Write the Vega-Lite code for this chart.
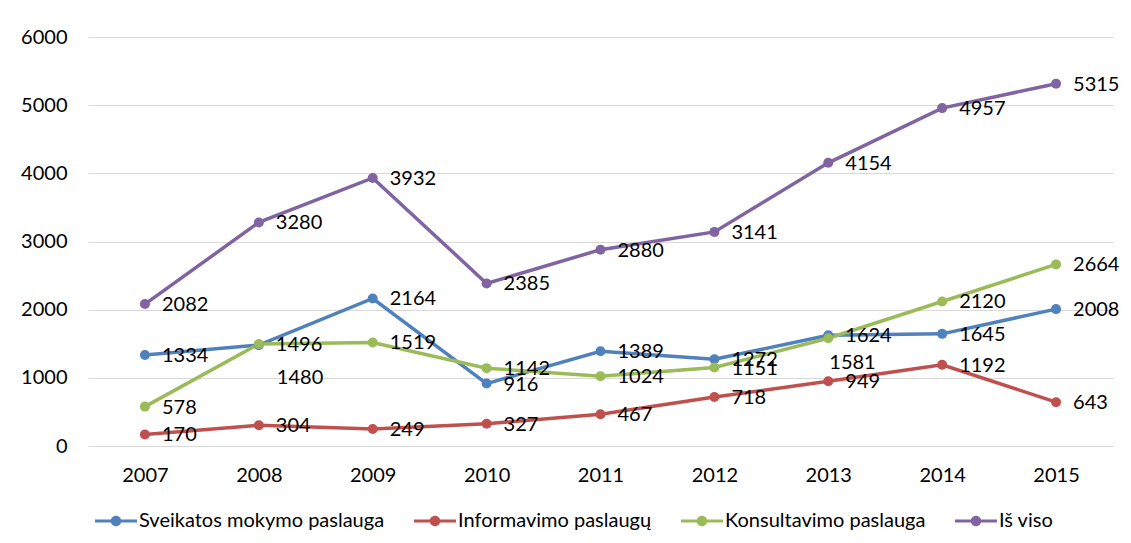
{
  "$schema": "https://vega.github.io/schema/vega-lite/v6.json",
  "autosize": "none",
  "width": 1025,
  "height": 409,
  "padding": {"left": 88, "top": 37, "right": 18, "bottom": 97},
  "background": "white",
  "config": {
    "font": "Lato",
    "view": {"stroke": null},
    "axis": {"labelFont": "Lato", "labelFontSize": 20, "labelColor": "#000000", "title": null, "ticks": false, "domain": false, "gridColor": "#d9d9d9", "gridWidth": 1}
  },
  "data": {
    "values": [
      {"year": "2007", "series": "Sveikatos mokymo paslauga", "value": 1334},
      {"year": "2008", "series": "Sveikatos mokymo paslauga", "value": 1480},
      {"year": "2009", "series": "Sveikatos mokymo paslauga", "value": 2164},
      {"year": "2010", "series": "Sveikatos mokymo paslauga", "value": 916},
      {"year": "2011", "series": "Sveikatos mokymo paslauga", "value": 1389},
      {"year": "2012", "series": "Sveikatos mokymo paslauga", "value": 1272},
      {"year": "2013", "series": "Sveikatos mokymo paslauga", "value": 1624},
      {"year": "2014", "series": "Sveikatos mokymo paslauga", "value": 1645},
      {"year": "2015", "series": "Sveikatos mokymo paslauga", "value": 2008},
      {"year": "2007", "series": "Informavimo paslaugų", "value": 170},
      {"year": "2008", "series": "Informavimo paslaugų", "value": 304},
      {"year": "2009", "series": "Informavimo paslaugų", "value": 249},
      {"year": "2010", "series": "Informavimo paslaugų", "value": 327},
      {"year": "2011", "series": "Informavimo paslaugų", "value": 467},
      {"year": "2012", "series": "Informavimo paslaugų", "value": 718},
      {"year": "2013", "series": "Informavimo paslaugų", "value": 949},
      {"year": "2014", "series": "Informavimo paslaugų", "value": 1192},
      {"year": "2015", "series": "Informavimo paslaugų", "value": 643},
      {"year": "2007", "series": "Konsultavimo paslauga", "value": 578},
      {"year": "2008", "series": "Konsultavimo paslauga", "value": 1496},
      {"year": "2009", "series": "Konsultavimo paslauga", "value": 1519},
      {"year": "2010", "series": "Konsultavimo paslauga", "value": 1142},
      {"year": "2011", "series": "Konsultavimo paslauga", "value": 1024},
      {"year": "2012", "series": "Konsultavimo paslauga", "value": 1151},
      {"year": "2013", "series": "Konsultavimo paslauga", "value": 1581},
      {"year": "2014", "series": "Konsultavimo paslauga", "value": 2120},
      {"year": "2015", "series": "Konsultavimo paslauga", "value": 2664},
      {"year": "2007", "series": "Iš viso", "value": 2082},
      {"year": "2008", "series": "Iš viso", "value": 3280},
      {"year": "2009", "series": "Iš viso", "value": 3932},
      {"year": "2010", "series": "Iš viso", "value": 2385},
      {"year": "2011", "series": "Iš viso", "value": 2880},
      {"year": "2012", "series": "Iš viso", "value": 3141},
      {"year": "2013", "series": "Iš viso", "value": 4154},
      {"year": "2014", "series": "Iš viso", "value": 4957},
      {"year": "2015", "series": "Iš viso", "value": 5315}
    ]
  },
  "encoding": {
    "x": {"field": "year", "type": "ordinal", "scale": {"type": "point", "padding": 0.5}, "axis": {"labelAngle": 0, "grid": false, "labelPadding": 19}},
    "y": {"field": "value", "type": "quantitative", "scale": {"domain": [0, 6000]}, "axis": {"values": [0, 1000, 2000, 3000, 4000, 5000, 6000], "format": "d", "labelPadding": 21, "grid": true}}
  },
  "layer": [
    {
      "mark": {"type": "line", "strokeWidth": 3.5},
      "encoding": {
        "color": {
          "field": "series", "type": "nominal",
          "scale": {"domain": ["Sveikatos mokymo paslauga", "Informavimo paslaugų", "Konsultavimo paslauga", "Iš viso"], "range": ["#4f81bd", "#c0504d", "#9bbb59", "#8064a2"]},
          "legend": {
            "title": null, "orient": "none", "legendX": 7, "legendY": 463, "direction": "horizontal", "columns": 4, "columnPadding": 29,
            "labelFont": "Lato", "labelFontSize": 20, "labelColor": "#000000", "labelLimit": 400, "labelOffset": 2,
            "symbolType": "M-1,-0.075H1V0.075H-1Z M0.25,0A0.25,0.25 0 1,1 -0.25,0A0.25,0.25 0 1,1 0.25,0Z",
            "symbolSize": 1764, "symbolStrokeWidth": 0,
            "encode": {"symbols": {"update": {"fill": {"scale": "color", "field": "value"}, "strokeWidth": {"value": 0}}}}
          }
        },
        "order": {"field": "year"}
      }
    },
    {
      "mark": {"type": "point", "filled": true, "size": 100, "opacity": 1},
      "encoding": {"color": {"field": "series", "type": "nominal"}}
    },
    {
      "transform": [{"filter": "!((datum.year == '2008' && datum.value == 1480) || (datum.year == '2013' && datum.value == 1581))"}],
      "mark": {"type": "text", "align": "left", "baseline": "middle", "dx": 17, "dy": 1, "fontSize": 20, "font": "Lato", "color": "#000000"},
      "encoding": {"text": {"field": "value", "type": "quantitative", "format": "d"}}
    },
    {
      "transform": [{"filter": "datum.year == '2008' && datum.value == 1480"}],
      "mark": {"type": "text", "align": "left", "baseline": "middle", "dx": 18, "dy": 33, "fontSize": 20, "font": "Lato", "color": "#000000"},
      "encoding": {"text": {"field": "value", "type": "quantitative", "format": "d"}}
    },
    {
      "transform": [{"filter": "datum.year == '2013' && datum.value == 1581"}],
      "mark": {"type": "text", "align": "left", "baseline": "middle", "dx": 1, "dy": 25, "fontSize": 20, "font": "Lato", "color": "#000000"},
      "encoding": {"text": {"field": "value", "type": "quantitative", "format": "d"}}
    }
  ]
}
